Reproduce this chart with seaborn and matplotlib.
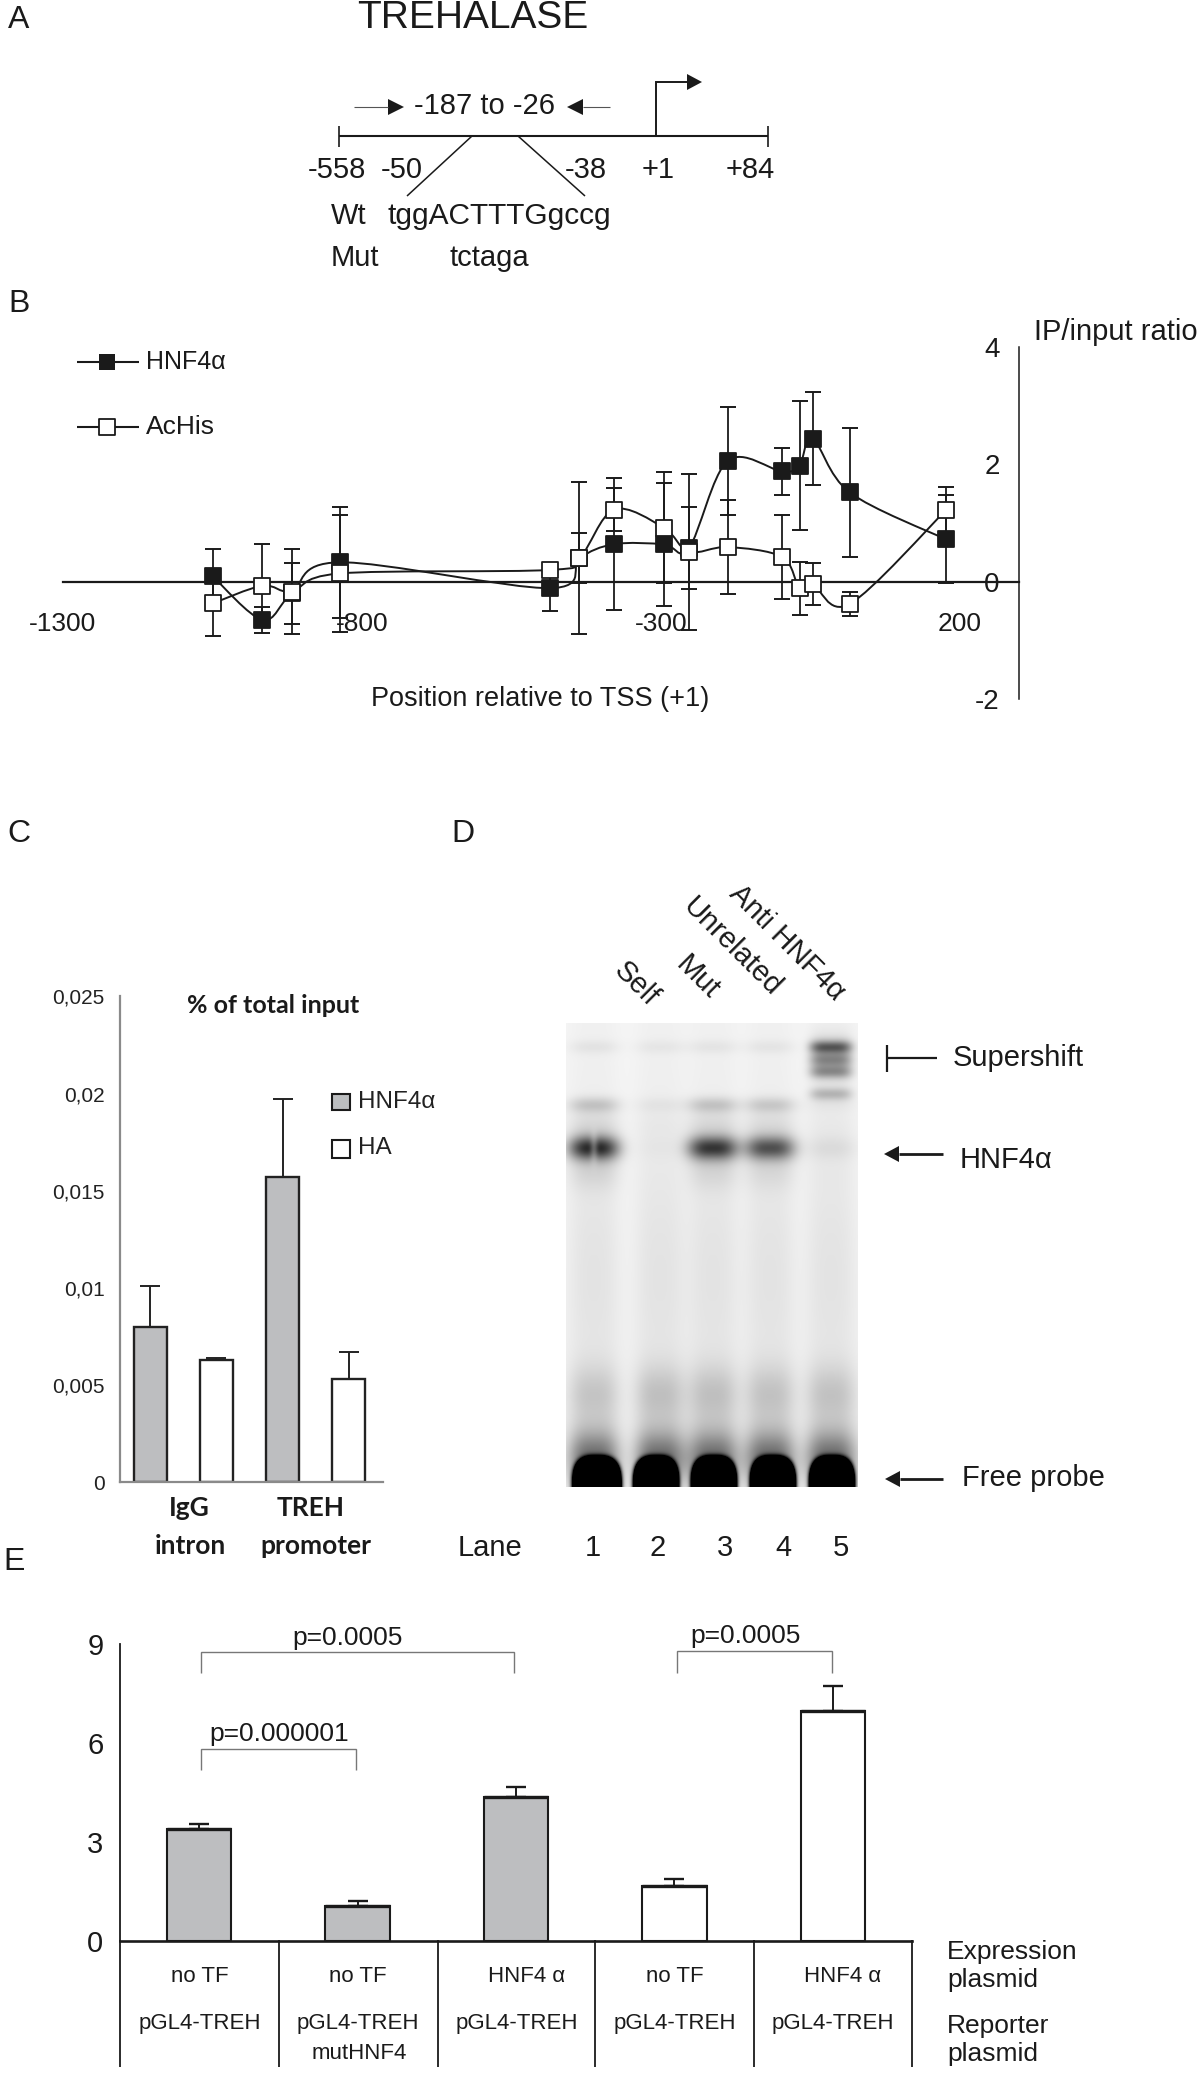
import numpy as np
import pandas as pd
import seaborn as sns
import matplotlib
matplotlib.use('Agg')
import matplotlib.pyplot as plt
from matplotlib.path import Path
from matplotlib.patches import PathPatch

# panel B
chip_pos = [-1049, -966, -917, -837, -486, -436, -378, -295, -253, -188, -97, -68, -46, 16, 177]
hnf_vals = [0.09, -0.65, -0.20, 0.33, -0.11, 0.40, 0.64, 0.64, 0.57, 2.06, 1.88, 1.98, 2.44, 1.52, 0.72]
hnf_errs = [0.47, 0.22, 0.52, 0.95, 0.39, 0.43, 1.13, 1.05, 0.70, 0.92, 0.40, 1.10, 0.80, 1.10, 0.75]
achis_vals = [-0.37, -0.07, -0.17, 0.14, 0.20, 0.40, 1.23, 0.92, 0.51, 0.59, 0.42, -0.11, -0.04, -0.38, 1.22]
achis_errs = [0.55, 0.71, 0.72, 1.00, 0.10, 1.30, 0.36, 0.95, 1.33, 0.80, 0.72, 0.45, 0.36, 0.20, 0.40]
chip_xticks = [-1300, -800, -300, 200]
chip_yticks = [-2, 0, 2, 4]

# panel C
qpcr_groups = ['IgG HNF4a', 'IgG HA', 'TREH HNF4a', 'TREH HA']
qpcr_vals = [0.0080, 0.0063, 0.0157, 0.0053]
qpcr_tops = [0.0101, 0.0064, 0.0197, 0.0067]
qpcr_yticks = [0, 0.005, 0.01, 0.015, 0.02, 0.025]
qpcr_ylabels = ['0', '0,005', '0,01', '0,015', '0,02', '0,025']

# panel D, band strengths per lane
lane_centers = [594, 660, 713, 770, 831]
probe_centers = [597, 656, 714, 773, 832]
lane_numbers = ['1', '2', '3', '4', '5']
lane_number_x = [593, 658, 725, 783, 841]
top_band = [0.05, 0.04, 0.045, 0.045, 0.0]
upper_band = [0.16, 0.04, 0.16, 0.14, 0.03]
main_band = [0.74, 0.02, 0.68, 0.58, 0.06]
main_notch = [0.35, 0.0, 0.0, 0.0, 0.0]
smear_band = [0.14, 0.16, 0.16, 0.15, 0.15]
super_rows = [1047, 1060, 1072, 1094]
super_band = [0.46, 0.22, 0.28, 0.22]

# panel E
luc_groups = ['g1', 'g2', 'g3', 'g4', 'g5']
luc_vals = [3.39, 1.06, 4.36, 1.67, 6.98]
luc_tops = [3.53, 1.21, 4.65, 1.88, 7.73]
expression_labels = ['no TF', 'no TF', 'HNF4 α', 'no TF', 'HNF4 α']
reporter_labels = ['pGL4-TREH', 'pGL4-TREH', 'pGL4-TREH', 'pGL4-TREH', 'pGL4-TREH']

W, H = 1200, 2087
GREY = '#bcbec0'
INK = '#1a1a1a'


def px_axes(fig, left, top, right, bottom, **kw):
    return fig.add_axes([left / W, 1 - bottom / H, (right - left) / W, (bottom - top) / H], **kw)


def smooth_line(ax, xs, ys, zorder):
    # excel style smoothed line through the points
    xy = np.column_stack([xs, ys])
    pts = np.vstack([xy[0], xy, xy[-1]])
    verts = [tuple(xy[0])]
    codes = [Path.MOVETO]
    for i in range(1, len(pts) - 2):
        c1 = pts[i] + (pts[i + 1] - pts[i - 1]) / 6
        c2 = pts[i + 1] - (pts[i + 2] - pts[i]) / 6
        verts += [tuple(c1), tuple(c2), tuple(pts[i + 1])]
        codes += [Path.CURVE4] * 3
    ax.add_patch(PathPatch(Path(verts, codes), fill=False, edgecolor=INK, lw=1.4, zorder=zorder))


def chip_series(ax, vals, errs, face, zorder):
    smooth_line(ax, chip_pos, vals, zorder)
    ax.errorbar(chip_pos, vals, yerr=errs, fmt='none', ecolor=INK, elinewidth=1.3,
                capsize=6, capthick=1.4, zorder=zorder, clip_on=False)
    sns.scatterplot(x=chip_pos, y=vals, marker='s', s=135, color=face, edgecolor=INK,
                    linewidth=1.3, zorder=zorder + 0.5, clip_on=False, ax=ax)


def draw_chip(fig):
    ax = px_axes(fig, 62.7, 347, 1019, 699)
    ax.patch.set_alpha(0)
    # set_position resets the ticks, so the spines come first
    ax.spines['top'].set_visible(False)
    ax.spines['right'].set_visible(False)
    ax.spines['left'].set_position(('axes', 1.0))
    ax.spines['left'].set_linewidth(1.1)
    ax.spines['left'].set_color(INK)
    ax.spines['bottom'].set_position(('data', 0))
    ax.spines['bottom'].set_linewidth(1.6)
    ax.spines['bottom'].set_color(INK)
    ax.spines['bottom'].set_zorder(2)
    chip_series(ax, hnf_vals, hnf_errs, INK, 3)
    chip_series(ax, achis_vals, achis_errs, 'white', 4)
    ax.set_xlim(-1300, 299)
    ax.set_ylim(-2, 4)
    ax.set_xticks(chip_xticks)
    ax.set_xticklabels(['-1300', '-800', '-300', '200'], fontsize=19)
    ax.set_yticks(chip_yticks)
    ax.set_yticklabels(['-2', '0', '2', '4'], fontsize=20)
    ax.tick_params(axis='x', direction='out', length=4, width=1.3, pad=18, color=INK, labelcolor=INK)
    ax.tick_params(axis='y', direction='out', length=4, width=1.1, pad=10, color=INK, labelcolor=INK)


def draw_qpcr(fig):
    ax = px_axes(fig, 120, 996.4, 383, 1482.4)
    df = pd.DataFrame({'group': qpcr_groups, 'val': qpcr_vals})
    sns.barplot(data=df, x='group', y='val', hue='group', palette=[GREY, 'white', GREY, 'white'],
                legend=False, width=0.5, edgecolor='#222222', linewidth=1.7, ax=ax)
    base = np.array(qpcr_vals)
    ax.errorbar(range(4), base, yerr=[np.zeros(4), np.array(qpcr_tops) - base], fmt='none',
                ecolor='#222222', elinewidth=1.4, capsize=7, capthick=1.4)
    ax.set_xlim(-0.46, 3.52)
    ax.set_ylim(0, 0.025)
    ax.set_yticks(qpcr_yticks)
    ax.set_yticklabels(qpcr_ylabels, fontsize=15, color='#222222')
    ax.set_xticks([])
    ax.set_xlabel('')
    ax.set_ylabel('')
    ax.tick_params(axis='y', direction='out', length=5, width=1.4, color='#8a8a8a', pad=6)
    sns.despine(ax=ax)
    ax.spines['left'].set_color('#8a8a8a')
    ax.spines['left'].set_linewidth(1.6)
    ax.spines['bottom'].set_color('#8a8a8a')
    ax.spines['bottom'].set_linewidth(1.6)


def draw_gel(fig):
    ax = px_axes(fig, 566, 1023, 858, 1487)
    xs, ys = np.meshgrid(np.arange(566, 858) + 0.5, np.arange(1023, 1487) + 0.5)
    gel = 0.04 + 0.02 * (ys - 1023) / 464
    for i, c in enumerate(lane_centers):
        lane = np.exp(-(np.abs(xs - c) / 25.0) ** 3)
        gel += lane * 0.02
        gel += lane * 0.04 * np.exp(-((ys - 1270) / 120.0) ** 2)
        gel += lane * top_band[i] * np.exp(-((ys - 1047) / 7.0) ** 2)
        gel += lane * upper_band[i] * np.exp(-((ys - 1105) / 8.0) ** 2)
        gel += lane * upper_band[i] * 0.5 * np.exp(-((ys - 1126) / 16.0) ** 2)
        gap = 1 - main_notch[i] * np.exp(-((xs - c) / 4.0) ** 2)
        gel += lane * gap * main_band[i] * np.exp(-((ys - 1148) / 12.0) ** 2)
        gel += lane * main_band[i] * 0.12 * np.exp(-((ys - 1170) / 20.0) ** 2)
        gel += lane * smear_band[i] * np.exp(-((ys - 1395) / 30.0) ** 2)
        gel += lane * 0.5 * np.exp(-((ys - 1458) / 28.0) ** 2)
        # free probe blob, cut off by the lower edge of the gel
        wide = 22.0 if i == 0 else 20.5
        blob = (np.abs(xs - probe_centers[i]) / wide) ** 3 + (np.abs(ys - 1488) / 28.0) ** 3
        gel += 6 * np.exp(-blob ** 2)
    lane5 = np.exp(-(np.abs(xs - lane_centers[4]) / 21.0) ** 4)
    gel += lane5 * 0.2 * np.exp(-((ys - 1058) / 20.0) ** 2)
    for row, strength in zip(super_rows, super_band):
        gel += lane5 * strength * np.exp(-((ys - row) / 6.5) ** 2)
    sns.heatmap(np.clip(gel, 0, 1), cmap='gray_r', vmin=0, vmax=1, cbar=False,
                xticklabels=False, yticklabels=False, ax=ax)


def draw_luc(fig):
    ax = px_axes(fig, 120, 1644, 912, 1940.7)
    df = pd.DataFrame({'group': luc_groups, 'val': luc_vals})
    sns.barplot(data=df, x='group', y='val', hue='group', palette=[GREY, GREY, GREY, 'white', 'white'],
                legend=False, width=0.406, edgecolor=INK, linewidth=1.5, ax=ax)
    base = np.array(luc_vals)
    ax.errorbar(range(5), base, yerr=[np.zeros(5), np.array(luc_tops) - base], fmt='none',
                ecolor=INK, elinewidth=1.4, capsize=7, capthick=1.7)
    ax.hlines(luc_vals, np.arange(5) - 0.203, np.arange(5) + 0.203, color=INK, lw=2.4)
    ax.set_xlim(-0.5, 4.5)
    ax.set_ylim(0, 9)
    ax.set_yticks([0, 3, 6, 9])
    ax.set_yticklabels(['0', '3', '6', '9'], fontsize=21, color=INK)
    ax.set_xticks([])
    ax.set_xlabel('')
    ax.set_ylabel('')
    ax.tick_params(axis='y', direction='out', length=5, width=1.3, color=INK, pad=7)
    sns.despine(ax=ax)
    ax.spines['left'].set_linewidth(1.3)
    ax.spines['left'].set_color(INK)
    ax.spines['bottom'].set_linewidth(1.9)
    ax.spines['bottom'].set_color(INK)


def line(ov, xs, ys, lw=1.2, color=INK):
    ov.plot(xs, ys, color=color, lw=lw, solid_capstyle='butt', solid_joinstyle='miter')


def arrow(ov, tip, tail, y, head=16, half=8, lw=1.6, color=INK):
    sign = 1 if tail > tip else -1
    line(ov, [tip + sign * head, tail], [y, y], lw=lw, color=color)
    ov.fill([tip, tip + sign * head, tip + sign * head], [y, y - half, y + half], color=INK, lw=0)


def draw_labels(ov):
    def txt(x, y, s, size=21, ha='center', color=INK, **kw):
        ov.text(x, y + 1.5, s, fontsize=size, ha=ha, va='center', color=color, **kw)

    # panel letters
    txt(8, 18, 'A', 23, 'left')
    txt(8, 303, 'B', 23, 'left')
    txt(7, 832, 'C', 23, 'left')
    txt(451, 832, 'D', 23, 'left')
    txt(3, 1561, 'E', 23, 'left')

    # A, gene scheme
    txt(473, 16, 'TREHALASE', 28)
    txt(484, 105, '-187 to -26', 21)
    line(ov, [339, 768], [136, 136], 1.5)
    line(ov, [339, 339], [126, 147], 1.2)
    line(ov, [768, 768], [126, 147], 1.2)
    line(ov, [656, 656, 688], [136, 82, 82], 1.4)
    ov.fill([702, 687, 687], [82, 74, 90], color=INK, lw=0)
    arrow(ov, 404, 354, 107, head=16, half=8, lw=0.8, color='#555555')
    arrow(ov, 567, 610, 107, head=16, half=8, lw=0.8, color='#555555')
    line(ov, [472, 407], [136, 196], 1.1)
    line(ov, [518, 585], [136, 196], 1.1)
    for x, s in zip([337, 402, 586, 658, 750], ['-558', '-50', '-38', '+1', '+84']):
        txt(x, 169, s, 21)
    txt(331, 215, 'Wt', 21, 'left')
    txt(387, 215, 'tggACTTTGgccg', 21.5, 'left')
    txt(331, 257, 'Mut', 21, 'left')
    txt(449, 257, 'tctaga', 21, 'left')

    # B, legend and axis titles
    line(ov, [77, 139], [362, 362], 1.5)
    ov.scatter([107], [362], marker='s', s=135, color=INK, linewidths=0, zorder=5)
    txt(146, 360.5, 'HNF4α', 18, 'left')
    line(ov, [77, 139], [427, 427], 1.5)
    ov.scatter([107], [427], marker='s', s=120, facecolor='white', edgecolor=INK, linewidths=1.3, zorder=5)
    txt(146, 425.5, 'AcHis', 19, 'left')
    txt(1034, 330, 'IP/input ratio', 21, 'left')
    txt(540, 697, 'Position relative to TSS (+1)', 19.5)

    # C, title, legend and group names
    bold = dict(fontfamily='Lato', fontweight='bold')
    txt(273, 1004, '% of total input', 18, **bold)
    ov.fill([332, 350, 350, 332], [1094, 1094, 1110, 1110], facecolor=GREY, edgecolor=INK, lw=1.5)
    txt(358, 1100, 'HNF4α', 17.5, 'left', color='#222222')
    ov.fill([332, 350, 350, 332], [1140, 1140, 1158, 1158], facecolor='white', edgecolor=INK, lw=1.5)
    txt(358, 1147, 'HA', 17.5, 'left', color='#222222')
    txt(189, 1507, 'IgG', 19, **bold)
    txt(190, 1544, 'intron', 19, **bold)
    txt(311, 1507, 'TREH', 19, **bold)
    txt(316, 1544, 'promoter', 19, **bold)

    # D, gel annotation
    for x, y, s in zip([636, 697, 732, 787], [984, 977, 947, 943], ['Self', 'Mut', 'Unrelated', 'Anti HNF4α']):
        ov.text(x, y, s, fontsize=21, ha='center', va='center', color=INK, rotation=-45, rotation_mode='anchor')
    line(ov, [886.5, 886.5], [1045, 1072], 1.6)
    line(ov, [886.5, 937], [1058, 1058], 1.6)
    txt(953, 1057, 'Supershift', 21, 'left')
    arrow(ov, 884, 943, 1154, head=15, half=8, lw=2)
    txt(960, 1158, 'HNF4α', 21, 'left')
    arrow(ov, 885, 943, 1479, head=15, half=8, lw=2)
    txt(962, 1477, 'Free probe', 21, 'left')
    txt(458, 1546, 'Lane', 21, 'left')
    for x, s in zip(lane_number_x, lane_numbers):
        txt(x, 1546, s, 21)

    # E, brackets and table under the bars
    for l, r, top, bot in [(200.5, 513.5, 1652, 1673), (200.5, 356, 1749, 1770), (676.5, 832, 1651, 1673)]:
        line(ov, [l, l, r, r], [bot, top, top, bot], 1.0, '#777777')
    txt(348, 1636, 'p=0.0005', 19)
    txt(279, 1733, 'p=0.000001', 19)
    txt(746, 1635, 'p=0.0005', 19)
    for x in [120, 278.6, 437.7, 595.4, 753.8, 912]:
        line(ov, [x, x], [1940, 2067], 1.3)
    for x, s in zip([200, 358, 527, 675, 843], expression_labels):
        txt(x, 1975, s, 16)
    for x, s in zip([200, 358, 517, 675, 833], reporter_labels):
        txt(x, 2022, s, 16)
    txt(359, 2052, 'mutHNF4', 16)
    txt(947, 1951, 'Expression', 19, 'left')
    txt(947, 1979, 'plasmid', 19, 'left')
    txt(947, 2024, 'Reporter', 19, 'left')
    txt(947, 2053, 'plasmid', 19, 'left')


def main():
    sns.set_style('white')
    plt.rcParams['font.family'] = ['Liberation Sans', 'DejaVu Sans']
    fig = plt.figure(figsize=(W / 100, H / 100), dpi=100)
    draw_chip(fig)
    draw_qpcr(fig)
    draw_gel(fig)
    draw_luc(fig)

    ov = fig.add_axes([0, 0, 1, 1], zorder=10)
    ov.patch.set_alpha(0)
    draw_labels(ov)
    ov.set_xlim(0, W)
    ov.set_ylim(H, 0)
    ov.axis('off')

    fig.savefig('out.png', dpi=100)


if __name__ == '__main__':
    main()
